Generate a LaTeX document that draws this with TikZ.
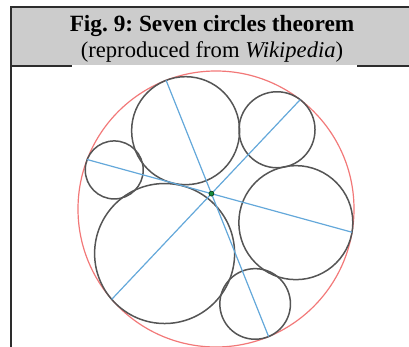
\documentclass[tikz,border=0pt]{standalone}
\usepackage{fontspec}
\setmainfont{Liberation Serif}
\usetikzlibrary{calc}
\definecolor{headgray}{RGB}{204,204,204}
\definecolor{rulegray}{RGB}{45,45,45}
\definecolor{outerred}{RGB}{242,120,120}
\definecolor{chordblue}{RGB}{100,168,218}
\definecolor{ringgray}{RGB}{85,85,85}
\definecolor{ptgreen}{RGB}{20,140,60}
\frenchspacing
\begin{document}
\begin{tikzpicture}[x=1pt, y=1pt,
	outer/.style = {draw = outerred, line width = 1.2},
	ring/.style = {draw = ringgray, line width = 1.5},
	chord/.style = {draw = chordblue, line width = 1.2}]
	\useasboundingbox (0,0) rectangle (409,347);
	% header of the box
	\fill [headgray] (11,282) rectangle (409,339);
	\draw [rulegray, line width = 2] (11,339.5) -- (409,339.5);
	\draw [rulegray, line width = 2] (11,340.5) -- (11,0);
	\draw [rulegray, line width = 2] (11,281) -- (72,281);
	\draw [rulegray, line width = 2] (357,281) -- (409,281);
	\node [anchor = base] (title) at (212,315.3) {\fontsize{23.3}{26}\selectfont\bfseries Fig. 9: Seven circles theorem};
	\node [anchor = base] (source) at (212,289) {\fontsize{22.6}{25}\selectfont (reproduced from \emph{Wikipedia})};
	% outer circle and the six inner ones
	\coordinate (O) at (216,138);
	\draw [outer] (O) circle (138);
	\foreach \ang/\r/\n in {111.2/54/a, 52.4/38/b, 159/29/c, 220.9/70/d, 350.3/57/e, 292.4/35.3/f} {
		\draw [ring] ($(O)+(\ang:{138-\r})$) circle (\r);
		\coordinate (t\n) at ($(O)+(\ang:138)$);
	}
	% the three chords
	\draw [chord] (tc) -- (te);
	\draw [chord] (ta) -- (tf);
	\draw [chord] (tb) -- (td);
	\node [circle, fill = ptgreen, draw = black!60!ptgreen, line width = 0.6, inner sep = 0, minimum size = 5] (P) at (intersection of tc--te and ta--tf) {};
\end{tikzpicture}
\end{document}
